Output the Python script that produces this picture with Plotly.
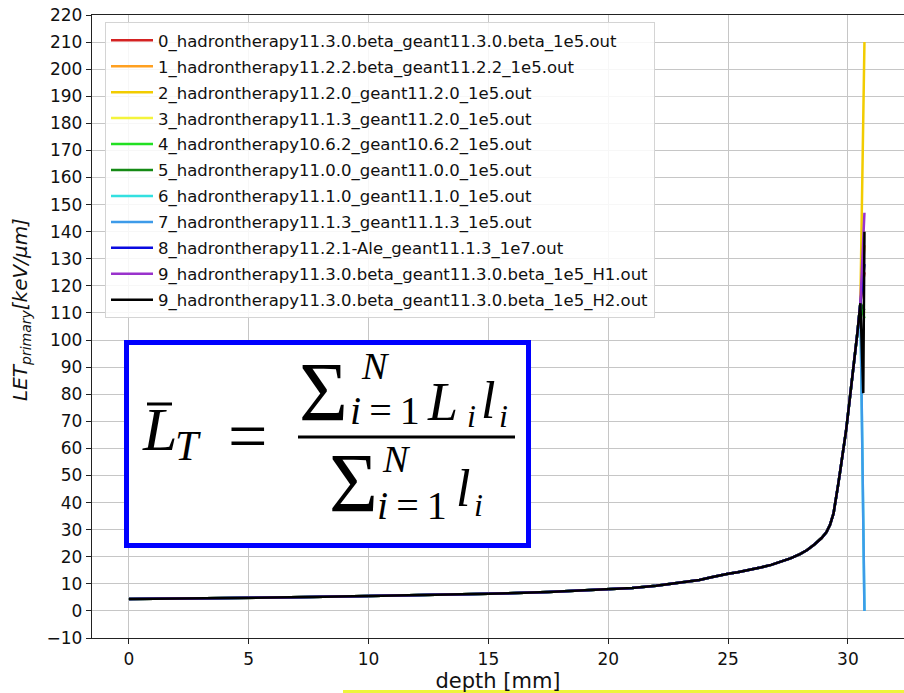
import plotly.graph_objects as go

# ---------------- data ----------------
series_names = [
    "0_hadrontherapy11.3.0.beta_geant11.3.0.beta_1e5.out",
    "1_hadrontherapy11.2.2.beta_geant11.2.2_1e5.out",
    "2_hadrontherapy11.2.0_geant11.2.0_1e5.out",
    "3_hadrontherapy11.1.3_geant11.2.0_1e5.out",
    "4_hadrontherapy10.6.2_geant10.6.2_1e5.out",
    "5_hadrontherapy11.0.0_geant11.0.0_1e5.out",
    "6_hadrontherapy11.1.0_geant11.1.0_1e5.out",
    "7_hadrontherapy11.1.3_geant11.1.3_1e5.out",
    "8_hadrontherapy11.2.1-Ale_geant11.1.3_1e7.out",
    "9_hadrontherapy11.3.0.beta_geant11.3.0.beta_1e5_H1.out",
    "9_hadrontherapy11.3.0.beta_geant11.3.0.beta_1e5_H2.out",
]
series_colors = ["#d42222", "#ffa020", "#f2cc00", "#f4f43c", "#22e022", "#158a15",
                 "#33e0e0", "#3d9be9", "#0a0ae0", "#9932cc", "#000000"]

# common Bragg curve (depth in mm, LET in keV/um)
depth = [0, 2.5, 5, 7.5, 10, 12.5, 15, 17.5, 20, 21, 22, 23, 23.8, 24.3, 24.7,
         25.0, 25.4, 25.8, 26.3, 26.8, 27.2, 27.6, 28.0, 28.3, 28.6, 28.9, 29.1,
         29.25, 29.4, 29.5, 29.6, 29.7, 29.8, 29.93, 30.1, 30.28, 30.4, 30.52]
let_common = [4.4, 4.6, 4.8, 5.1, 5.5, 5.9, 6.3, 7.0, 7.9, 8.5, 9.3, 10.4, 11.4,
              12.4, 13.2, 13.7, 14.3, 14.9, 15.9, 17.0, 18.1, 19.4, 21.0, 22.5,
              24.5, 26.9, 29.0, 31.7, 36, 41, 47, 53, 59, 67, 80, 92.6, 103, 113.6]

# last bins differ between versions
tail_depth = [[30.69], [30.69], [30.69], [30.69], [30.69], [30.69], [30.69],
              [30.69], [30.69], [30.69], [30.64, 30.69]]
tail_let = [[125], [135], [210], [110], [108], [111], [0], [0], [128], [147], [80.4, 140]]

y_ticks = list(range(-10, 221, 10))
x_ticks = [0, 5, 10, 15, 20, 25, 30]

# ---------------- figure ----------------
W, H = 904, 693
L_M, R_M, T_M, B_M = 92, 0, 15, 55
PW, PH = W - L_M - R_M, H - T_M - B_M


def px(x):
    return (x - L_M) / PW


def py(y):
    return (H - B_M - y) / PH


fig = go.Figure()
for name, col, td, tl in zip(series_names, series_colors, tail_depth, tail_let):
    fig.add_trace(go.Scatter(
        x=depth + td, y=let_common + tl, mode="lines", name=name, legendgroup=name,
        line=dict(color=col, width=2.5)))

AX_FONT = dict(family="DejaVu Sans", size=17, color="#111111")
fig.update_layout(
    width=W, height=H,
    margin=dict(l=L_M, r=R_M, t=T_M, b=B_M, pad=0),
    paper_bgcolor="white", plot_bgcolor="white",
    font=dict(family="DejaVu Sans", color="#111111"),
    showlegend=True,
    legend=dict(x=px(105), y=py(22), xanchor="left", yanchor="top",
                bgcolor="rgba(255,255,255,0.85)", bordercolor="#d4d4d4", borderwidth=1,
                font=dict(family="DejaVu Sans", size=16.5, color="#111111"),
                tracegroupgap=1.5, itemwidth=42),
    xaxis=dict(range=[-1.54, 32.34], tickvals=x_ticks, ticks="outside", ticklen=5,
               tickcolor="#222", tickfont=AX_FONT, showline=True, linecolor="#222",
               linewidth=1.3, mirror=True, showgrid=True, gridcolor="#c6c6c6",
               gridwidth=1.2, zeroline=False,
               title=dict(text="depth [mm]",
                          font=dict(family="DejaVu Sans", size=21, color="#111111"),
                          standoff=4)),
    yaxis=dict(range=[-10, 220], tickvals=y_ticks, ticks="outside", ticklen=5,
               tickcolor="#222", tickfont=AX_FONT, showline=True, linecolor="#222",
               linewidth=1.3, mirror=False, showgrid=True, gridcolor="#c6c6c6",
               gridwidth=1.2, zeroline=False),
)

# y-axis label
fig.add_annotation(
    xref="paper", yref="paper", x=px(21), y=py(310), showarrow=False, textangle=-90,
    xanchor="center", yanchor="middle",
    text="<i>LET</i><sub><i>primary</i></sub><i>[keV/μm]</i>",
    font=dict(family="DejaVu Sans", size=20, color="#111111"))

# formula box
fig.add_shape(type="rect", xref="paper", yref="paper",
              x0=px(126.5), x1=px(528.5), y0=py(545.5), y1=py(342.5),
              line=dict(color="#0000ff", width=5), fillcolor="white", layer="above")

SERIF = "Liberation Serif"


def txt(s, xc, yc, size, xanchor="center"):
    fig.add_annotation(xref="paper", yref="paper", x=px(xc), y=py(yc), text=s,
                       showarrow=False, xanchor=xanchor, yanchor="middle",
                       font=dict(family=SERIF, size=size, color="black"))


def hline(x0, x1, y, w):
    fig.add_shape(type="line", xref="paper", yref="paper", x0=px(x0), x1=px(x1),
                  y0=py(y), y1=py(y), line=dict(color="black", width=w), layer="above")


# left-hand side  L̄_T =
txt("<i>L</i>", 159, 429, 62)
hline(147, 172, 404, 3)
txt("<i>T</i>", 188, 446, 42)
txt("=", 247, 436, 70)
# fraction bar
hline(298, 515, 437, 3)
# numerator
txt("Σ", 323, 392, 84)
txt("<i>N</i>", 375, 366, 38)
txt("<i>i</i>\u2009=\u20091", 385, 410, 40)
txt("<i>L</i>", 442, 402, 54)
txt("<i>i</i>", 471, 416, 32)
txt("<i>l</i>", 488, 400, 52)
txt("<i>i</i>", 503, 416, 32)
# denominator
txt("Σ", 353, 483, 84)
txt("<i>N</i>", 396, 459, 38)
txt("<i>i</i>\u2009=\u20091", 412, 505, 40)
txt("<i>l</i>", 463, 488, 52)
txt("<i>i</i>", 478, 505, 32)

# yellow highlight strip at the bottom of the image
fig.add_shape(type="line", xref="paper", yref="paper", x0=px(343), x1=px(906),
              y0=py(691.5), y1=py(691.5), line=dict(color="#eef53a", width=3))

fig.write_html("out.html", config={"displayModeBar": False},
               post_script="document.body.style.margin='0';")
